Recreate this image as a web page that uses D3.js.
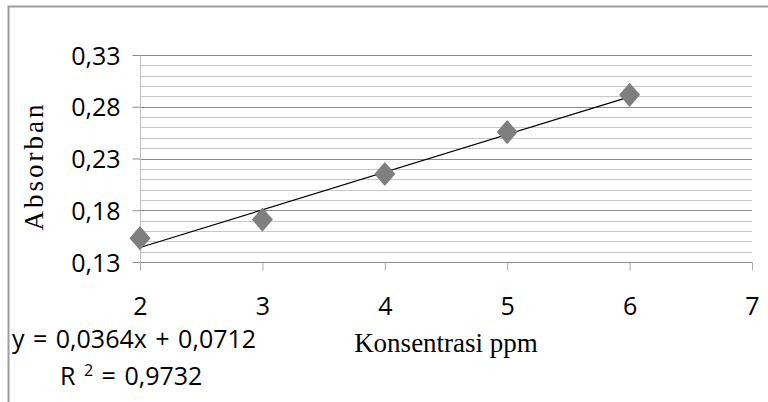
<!DOCTYPE html>
<html>
<head>
<meta charset="utf-8">
<script src="https://cdn.jsdelivr.net/npm/d3@7"></script>
<style>
  html, body { margin: 0; padding: 0; background: #fff; }
  svg { display: block; }
</style>
</head>
<body>
<div id="chart"></div>
<script>
// ── Kurva kalibrasi: Absorban vs Konsentrasi ──

const konsentrasi = [2, 3, 4, 5, 6]
const absorban = [0.153, 0.171, 0.215, 0.2555, 0.2915]
const xTicks = [2, 3, 4, 5, 6, 7]
const yTicks = [0.13, 0.18, 0.23, 0.28, 0.33]
const yMinor = [0.14, 0.15, 0.16, 0.17, 0.19, 0.20, 0.21, 0.22, 0.24, 0.25, 0.26, 0.27, 0.29, 0.30, 0.31, 0.32]
const slope = 0.0364, intercept = 0.0712
const trendX = [2, 6]
const eqnText = 'y = 0,0364x + 0,0712'
const r2Text = '= 0,9732'

const width = 768, height = 402
const sans = '"Open Sans", sans-serif'
const serif = '"Liberation Serif", "Times New Roman", serif'

const svg = d3.select('#chart')
  .append('svg')
  .attr('width', width)
  .attr('height', height)

// chart border (right and bottom run past the picture)
svg.append('rect')
  .attr('x', 8.5).attr('y', 6.5)
  .attr('width', 800).attr('height', 450)
  .attr('fill', 'none')
  .attr('stroke', '#9d9d9d')
  .attr('stroke-width', 2)

const x = d3.scaleLinear().domain([2, 7]).range([140, 752])
const y = d3.scaleLinear().domain([0.13, 0.33]).range([262, 55])

const fmt = d => d3.format('.2f')(d).replace('.', ',')

// minor gridlines
svg.append('g')
  .selectAll('line')
  .data(yMinor)
  .join('line')
  .attr('x1', x(2)).attr('x2', x(7))
  .attr('y1', d => Math.round(y(d)) + 0.5)
  .attr('y2', d => Math.round(y(d)) + 0.5)
  .attr('stroke', '#c8c8c8')
  .attr('stroke-width', 1.2)

// major gridlines
svg.append('g')
  .selectAll('line')
  .data(yTicks)
  .join('line')
  .attr('x1', x(2)).attr('x2', x(7))
  .attr('y1', d => Math.round(y(d)) + 0.5)
  .attr('y2', d => Math.round(y(d)) + 0.5)
  .attr('stroke', '#8c8c8c')
  .attr('stroke-width', 1.2)

// y axis
const yAxis = svg.append('g')
  .attr('transform', `translate(${x(2) + 0.5},0)`)
  .call(d3.axisLeft(y).tickValues(yTicks).tickSize(8).tickPadding(12).tickFormat(fmt))
yAxis.select('.domain').attr('stroke', '#c0c0c0').attr('d', `M0,${y(0.33)}V${y(0.13) + 8}`)
yAxis.selectAll('.tick line').attr('stroke', '#8c8c8c')
yAxis.selectAll('.tick text')
  .attr('font-family', sans)
  .attr('font-size', 25)
  .attr('fill', '#000')
  .attr('dy', '0.36em')

// x axis
const xAxis = svg.append('g')
  .attr('transform', `translate(0,${Math.round(y(0.13)) + 0.5})`)
  .call(d3.axisBottom(x).tickValues(xTicks).tickSize(8).tickPadding(27).tickFormat(d3.format('d')))
xAxis.select('.domain').remove()
xAxis.selectAll('.tick line').attr('stroke', '#a8a8a8')
xAxis.selectAll('.tick text')
  .attr('font-family', sans)
  .attr('font-size', 25)
  .attr('fill', '#000')

// trendline
svg.append('line')
  .attr('x1', x(trendX[0])).attr('y1', y(slope * trendX[0] + intercept))
  .attr('x2', x(trendX[1])).attr('y2', y(slope * trendX[1] + intercept))
  .attr('stroke', '#000')
  .attr('stroke-width', 1.2)

// markers: slightly tall diamond, like the spreadsheet marker
const tallDiamond = {
  draw(ctx, size) {
    const w = Math.sqrt(size) / 2, h = w * 1.15
    ctx.moveTo(0, -h)
    ctx.lineTo(w, 0)
    ctx.lineTo(0, h)
    ctx.lineTo(-w, 0)
    ctx.closePath()
  }
}
svg.append('g')
  .selectAll('path')
  .data(konsentrasi)
  .join('path')
  .attr('transform', (d, i) => `translate(${x(d)},${y(absorban[i])})`)
  .attr('d', d3.symbol().type(tallDiamond).size(441))
  .attr('fill', '#7f7f7f')

// trendline equation
svg.append('text')
  .attr('x', 12).attr('y', 348)
  .attr('font-family', sans)
  .attr('font-size', 25)
  .attr('word-spacing', 2)
  .attr('fill', '#000')
  .text(eqnText)

const r2 = svg.append('text')
  .attr('x', 60).attr('y', 385)
  .attr('font-family', sans)
  .attr('font-size', 25)
  .attr('word-spacing', 2)
  .attr('fill', '#000')
  .style('white-space', 'pre')
r2.append('tspan').text('R ')
r2.append('tspan').attr('font-size', 16).attr('dy', -9).text('2')
r2.append('tspan').attr('dy', 9).text(' ' + r2Text)

// axis titles
svg.append('text')
  .attr('transform', 'translate(43,166) rotate(-90)')
  .attr('text-anchor', 'middle')
  .attr('font-family', serif)
  .attr('font-size', 27)
  .attr('letter-spacing', 3)
  .attr('fill', '#000')
  .text('Absorban')

svg.append('text')
  .attr('x', 446).attr('y', 352)
  .attr('text-anchor', 'middle')
  .attr('font-family', serif)
  .attr('font-size', 27)
  .attr('fill', '#000')
  .text('Konsentrasi ppm')
</script>
</body>
</html>
